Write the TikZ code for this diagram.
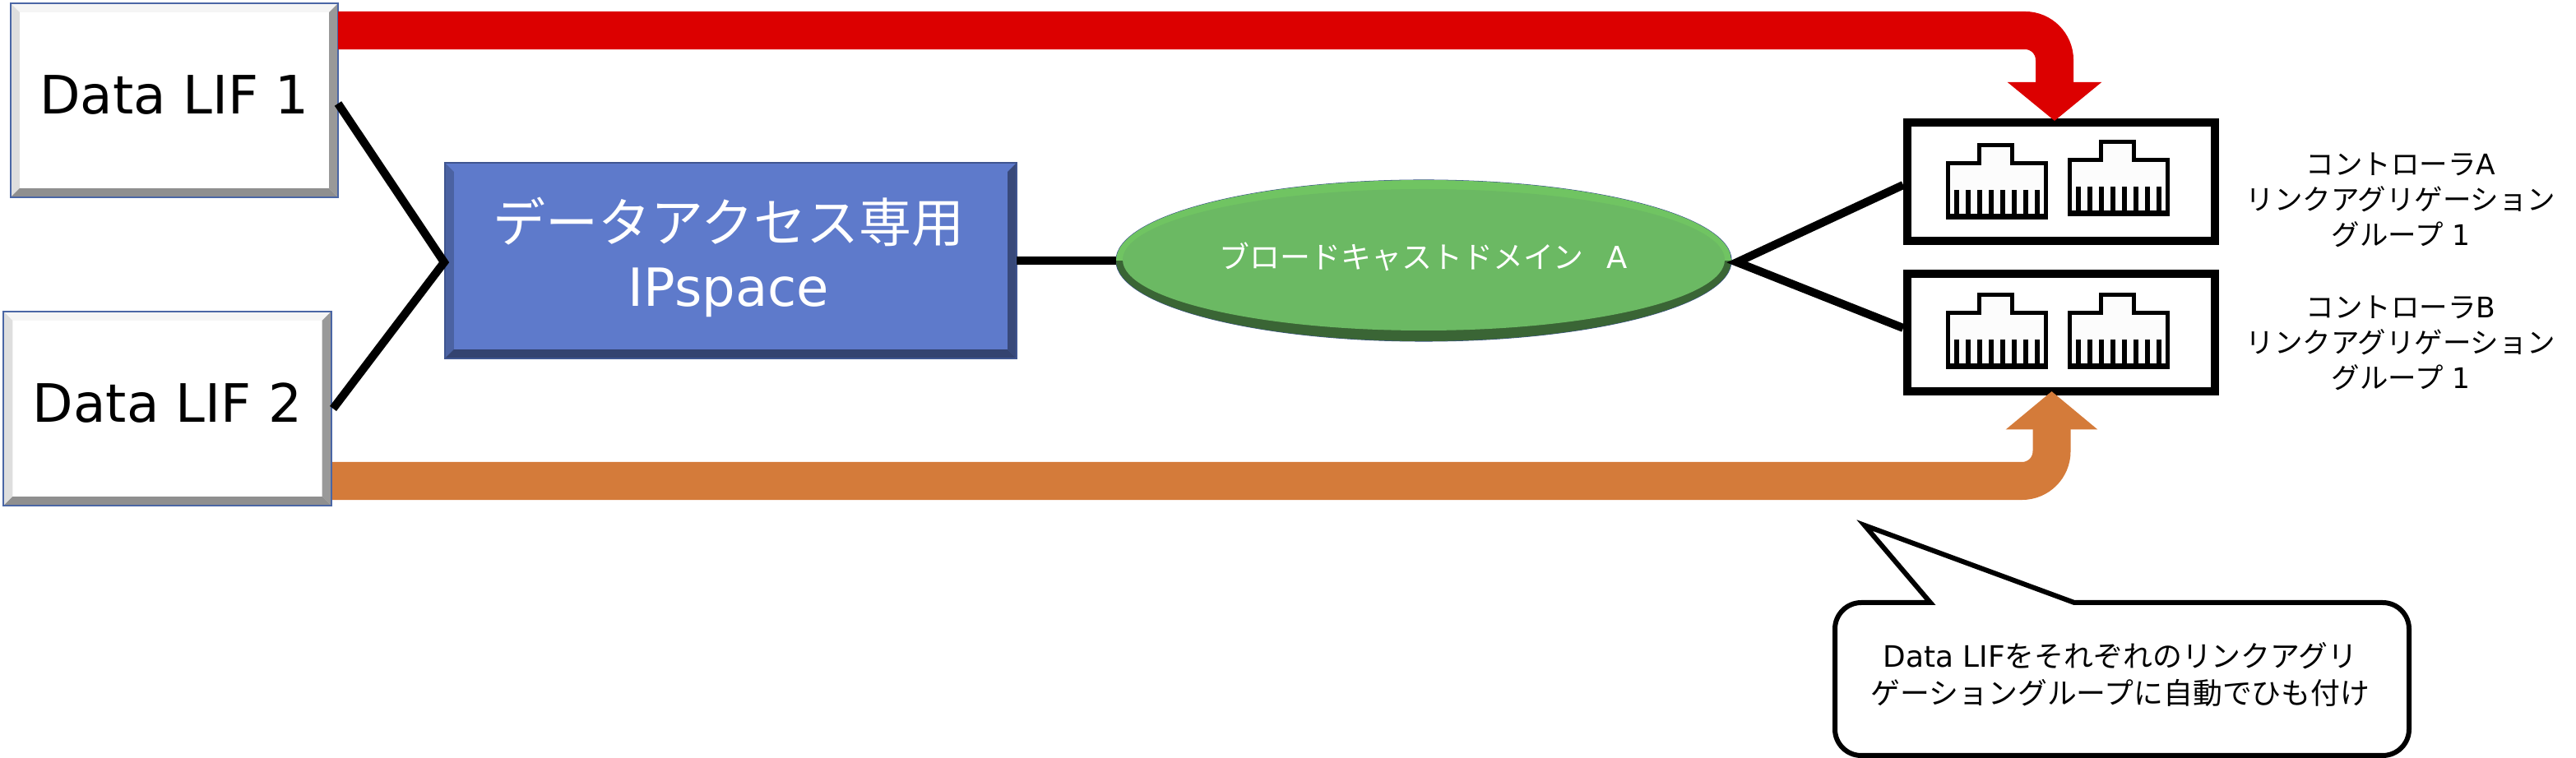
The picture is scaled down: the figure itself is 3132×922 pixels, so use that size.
\documentclass[tikz,border=0pt]{standalone}
\usepackage{fontspec}
\setmainfont{DejaVu Sans}
\newfontfamily\cjk{Noto Sans CJK JP}
\usetikzlibrary{shapes.geometric,arrows.meta}

\newcommand{\px}{0.2845pt}
\newcommand{\bevelfill}[5]{%
  \fill[#2] (path picture bounding box.north west) -- (path picture bounding box.north east)
    -- ([shift={(-#1,#1)}]path picture bounding box.north east) -- ([shift={(#1,#1)}]path picture bounding box.north west) -- cycle;
  \fill[#3] (path picture bounding box.north west) -- (path picture bounding box.south west)
    -- ([shift={(#1,-#1)}]path picture bounding box.south west) -- ([shift={(#1,#1)}]path picture bounding box.north west) -- cycle;
  \fill[#4] (path picture bounding box.north east) -- (path picture bounding box.south east)
    -- ([shift={(-#1,-#1)}]path picture bounding box.south east) -- ([shift={(-#1,#1)}]path picture bounding box.north east) -- cycle;
  \fill[#5] (path picture bounding box.south west) -- (path picture bounding box.south east)
    -- ([shift={(-#1,-#1)}]path picture bounding box.south east) -- ([shift={(#1,-#1)}]path picture bounding box.south west) -- cycle;
}
\definecolor{lifedge}{HTML}{4A66A5}
\definecolor{ipface}{HTML}{5E7ACB}
\definecolor{ipedge}{HTML}{3F5590}
\definecolor{domface}{HTML}{6BB963}
\definecolor{domdark}{HTML}{3A6535}
\definecolor{domlight}{HTML}{70C462}
\definecolor{lifred}{HTML}{DC0000}
\definecolor{liforange}{HTML}{D47B3A}

\tikzstyle{lifbox} = [draw=lifedge, fill=white, rectangle, line width=2*\px, inner sep=0pt, outer sep=0pt,
    minimum width=398*\px, minimum height=236*\px, text depth=14*\px,
    font=\fontsize{18.3}{22}\selectfont,
    path picture={\bevelfill{11}{black!4}{black!13}{black!40}{black!44}}]
\tikzstyle{ipbox} = [draw=ipedge, fill=ipface, rectangle, line width=2*\px, inner sep=0pt, outer sep=0pt,
    minimum width=695*\px, minimum height=238*\px,
    path picture={\bevelfill{11}{ipface}{ipface!80!black}{ipface!60!black}{ipface!55!black}}]
\tikzstyle{iptext} = [text=white, align=center, font=\fontsize{18.2}{22.2}\selectfont]
\tikzstyle{domainoval} = [draw=ipedge, fill=domface, ellipse, line width=1*\px, inner sep=0pt, outer sep=0pt,
    minimum width=748*\px, minimum height=196*\px]
\tikzstyle{domaintext} = [text=white, font=\fontsize{10.5}{12}\selectfont]
\tikzstyle{portbox} = [draw, fill=white, rectangle, line width=10*\px, inner sep=0pt, outer sep=0pt,
    minimum width=374*\px]
\tikzstyle{portlabel} = [align=center, font=\fontsize{9.8}{12.2}\selectfont]
\tikzstyle{link} = [line width=10*\px]
\tikzstyle{rednet} = [draw=lifred, line width=46*\px, rounded corners=36*\px,
    -{Triangle[length=13.4pt,width=31.9pt]}]
\tikzstyle{orangenet} = [draw=liforange, line width=46*\px, rounded corners=36*\px,
    -{Triangle[length=13.2pt,width=31pt]}]
\tikzstyle{balloon} = [draw, fill=white, line width=6*\px]
\tikzstyle{input} = [coordinate]

\tikzset{rjport/.pic={
  \draw[line width=5*\px, fill=black!1] (0,22) -- (38,22) -- (38,0) -- (78,0) -- (78,22) -- (119,22) -- (119,88) -- (0,88) -- cycle;
  \foreach \k in {0,...,7}
    \draw[line width=6*\px] (10+14*\k,55) -- (10+14*\k,88);
  \draw[line width=6*\px] (0,87) -- (119,87);
}}

\begin{document}
\begin{tikzpicture}[x=0.01cm,y=-0.01cm]
      \useasboundingbox (0,0) rectangle (3132,922);

      \node[lifbox] at (212,122) (lif1) {Data LIF 1};
      \node[lifbox] at (203.5,497) (lif2) {Data LIF 2};
      \node[ipbox] at (888.5,317) (ipspace) {};
      \node[iptext] at (886,313) (iplabel) {{\cjk データアクセス専用}\\IPspace};
      \node[domainoval] at (1731,317) (bdomain) {};
      \begin{scope}
        \clip (bdomain.center) ellipse (374 and 98);
        \fill[domlight] (1357,218) rectangle (2105,317);
        \fill[domdark] (1357,317) rectangle (2105,415);
        \fill[domface] (1731,316) ellipse (366 and 86);
      \end{scope}
      \node[domaintext] at (1731,312) (bdomainlabel) {{\cjk ブロードキャストドメイン}\hspace{8pt}A};

      \node[portbox, minimum height=144*\px] at (2506,221) (porta) {};
      \node[portbox, minimum height=143*\px] at (2506,404.5) (portb) {};
      \pic (pa1) at (2368.5,176.5) {rjport};
      \pic (pa2) at (2516.5,172.5) {rjport};
      \pic (pb1) at (2368.5,358.5) {rjport};
      \pic (pb2) at (2516.5,358.5) {rjport};

      \node[portlabel] at (2919,243) (ctrla) {{\cjk コントローラ}A\\{\cjk リンクアグリゲーション}\\{\cjk グループ} 1};
      \node[portlabel] at (2919,417) (ctrlb) {{\cjk コントローラ}B\\{\cjk リンクアグリゲーション}\\{\cjk グループ} 1};

      \node [input, name=conn1] at (411,126) {};
      \node [input, name=conn2] at (405,497) {};
      \node [input, name=conn3] at (540,319) {};
      \node [input, name=conn4] at (2112,319) {};
      \node [input, name=conn5] at (2314,225) {};
      \node [input, name=conn6] at (2314,399) {};
      \node [input, name=redstart] at (411,37) {};
      \node [input, name=redend] at (2498,147) {};
      \node [input, name=orangestart] at (404,585) {};
      \node [input, name=orangeend] at (2494.5,476) {};

      \draw [link] (conn1) -- (conn3) -- (conn2);
      \draw [link] (ipspace) -- (bdomain);
      \draw [link] (conn5) -- (conn4) -- (conn6);
      \draw [rednet] (redstart) -| (redend);
      \draw [orangenet] (orangestart) -| (orangeend);

      \draw [balloon] (2347,733) -- (2267,639) -- (2522,733) [rounded corners=32*\px] -- (2929,733) -- (2929,919) -- (2231,919) -- (2231,733) [sharp corners] -- cycle;
      \node[align=center, font=\fontsize{10.2}{12.8}\selectfont] at (2578,820) (note) {Data LIF{\cjk をそれぞれのリンクアグリ}\\{\cjk ゲーショングループに自動でひも付け}};
\end{tikzpicture}
\end{document}
